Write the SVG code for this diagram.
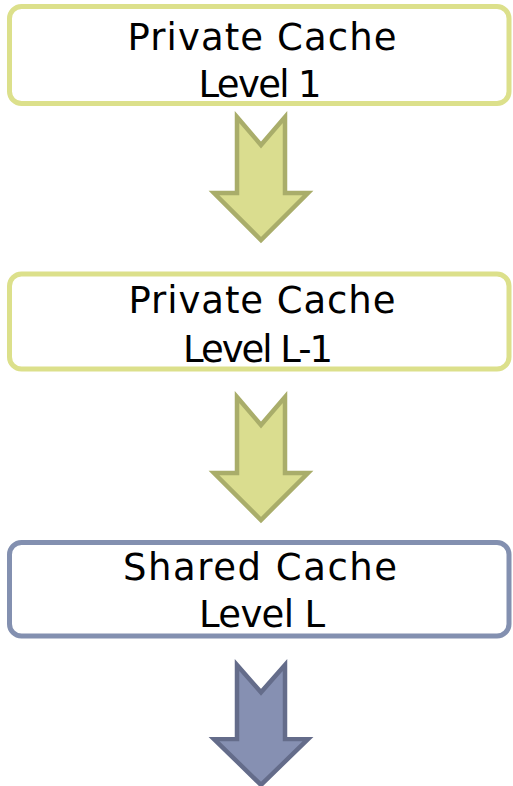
<svg xmlns="http://www.w3.org/2000/svg" width="513" height="786" viewBox="0 0 513 786">
  <style>
    .box { fill: #ffffff; stroke-width: 5; }
    .priv { stroke: #dce08b; }
    .shared { stroke: #8390b0; }
    .lbl { font-family: "DejaVu Sans", "Liberation Sans", sans-serif; font-size: 37px; fill: #000000; text-anchor: middle; }
    .arrow { stroke-width: 4.5; stroke-linejoin: miter; }
    .arrow-priv { fill: #dadd8f; stroke: #a9ad6a; }
    .arrow-shared { fill: #8690b2; stroke: #646c8a; }
  </style>
  <defs>
    <!-- notched down-arrow, origin at the top of the shaft centre -->
    <path id="downArrow" d="M-24,0 L0,28 L24,0 L24,76 L47,76 L0,123 L-47,76 L-24,76 Z"/>
  </defs>

  <g id="node-private-l1">
    <rect class="box priv" x="9.5" y="6.5" width="499.5" height="97" rx="12"/>
    <text class="lbl" x="262" y="50" textLength="269" lengthAdjust="spacing">Private Cache</text>
    <text class="lbl" x="260" y="97" textLength="123" lengthAdjust="spacing">Level 1</text>
  </g>

  <g id="node-private-lm1">
    <rect class="box priv" x="9.5" y="274" width="499.5" height="95" rx="12"/>
    <text class="lbl" x="262" y="313" textLength="267" lengthAdjust="spacing">Private Cache</text>
    <text class="lbl" x="258" y="361.5" textLength="150" lengthAdjust="spacing">Level L-1</text>
  </g>

  <g id="node-shared-l">
    <rect class="box shared" x="9.5" y="542.5" width="499.5" height="93.5" rx="12"/>
    <text class="lbl" x="260" y="580" textLength="274" lengthAdjust="spacing">Shared Cache</text>
    <text class="lbl" x="262" y="626.5" textLength="126" lengthAdjust="spacing">Level L</text>
  </g>

  <g id="connectors">
    <use href="#downArrow" class="arrow arrow-priv" transform="translate(261,117)"/>
    <use href="#downArrow" class="arrow arrow-priv" transform="translate(261,397)"/>
    <use href="#downArrow" class="arrow arrow-shared" transform="translate(261,665) scale(1,0.975)"/>
  </g>
</svg>
